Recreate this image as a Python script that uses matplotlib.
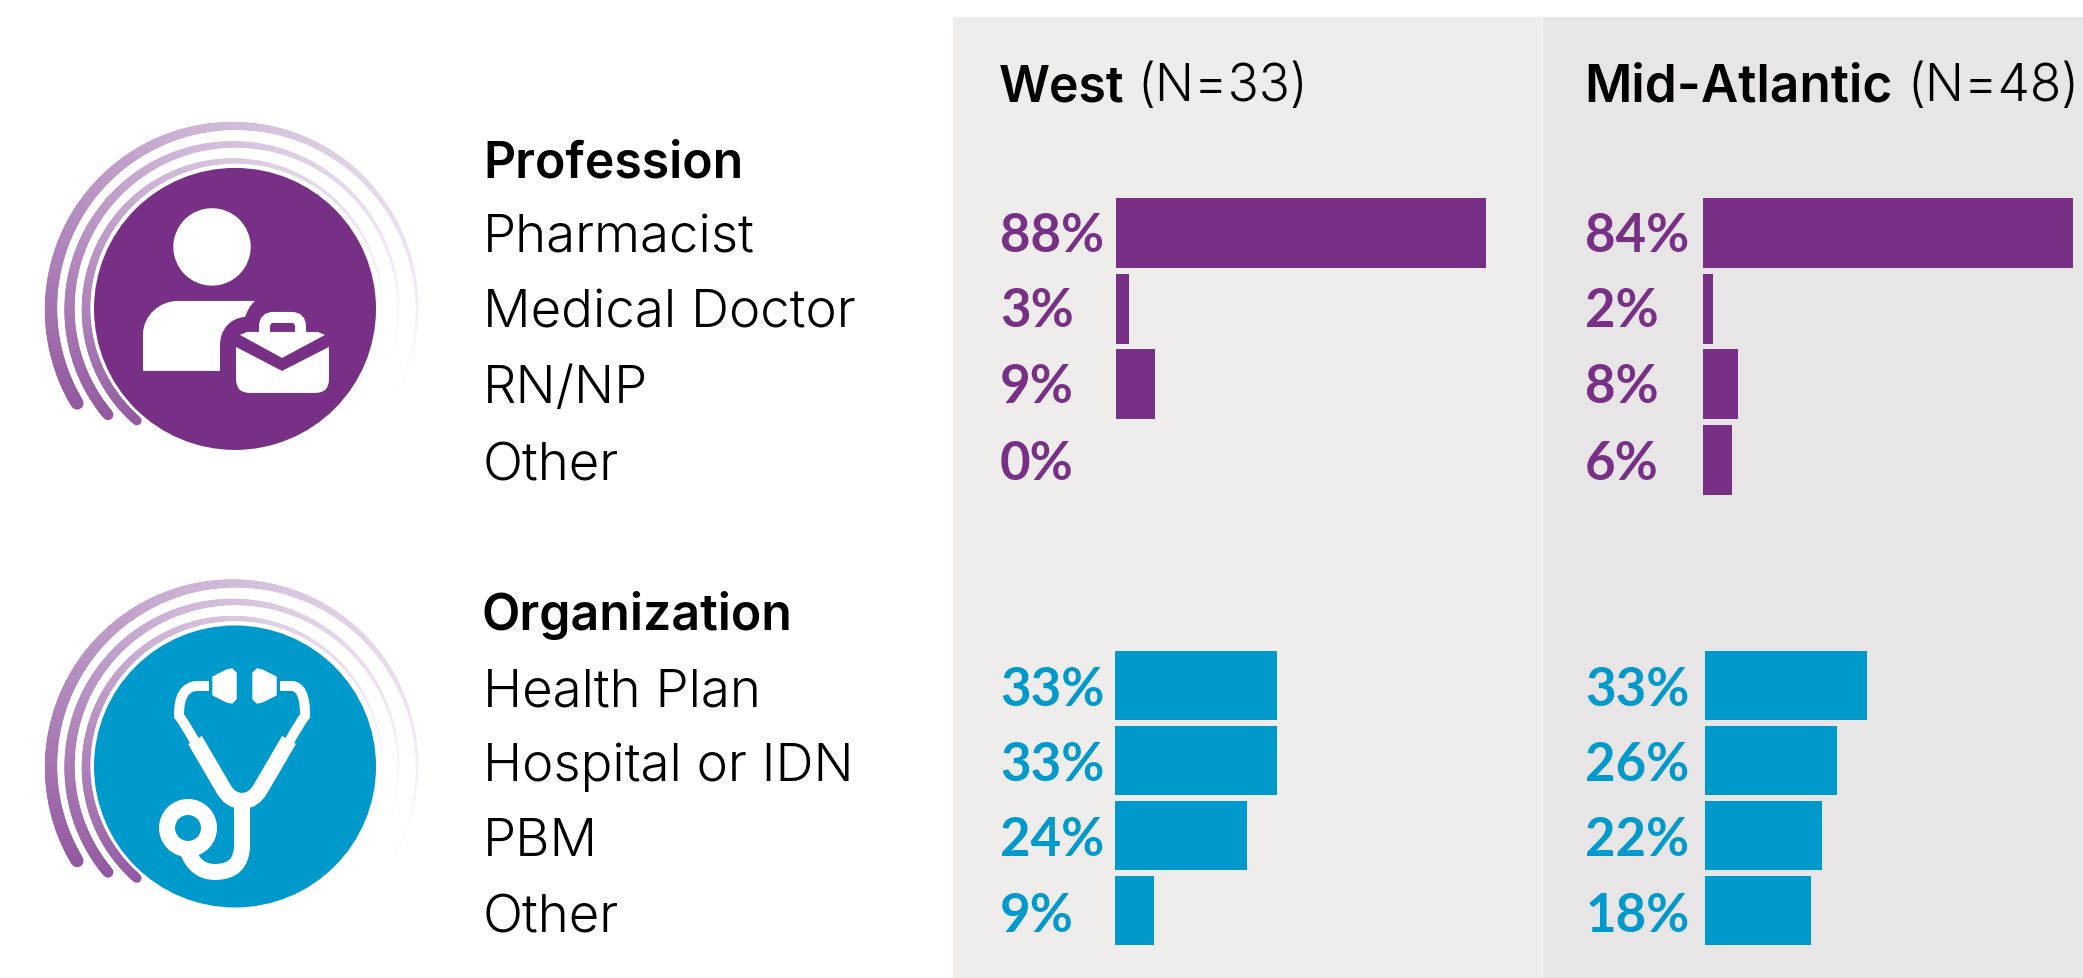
import matplotlib
matplotlib.use('Agg')
import matplotlib.pyplot as plt
import numpy as np
from matplotlib.collections import LineCollection
from matplotlib.patches import Circle, PathPatch, Rectangle, Polygon, FancyBboxPatch
from matplotlib.path import Path

W, H = 2083, 978

profession_labels = ['Pharmacist', 'Medical Doctor', 'RN/NP', 'Other']
organization_labels = ['Health Plan', 'Hospital or IDN', 'PBM', 'Other']

west_profession = [88, 3, 9, 0]
west_organization = [33, 33, 24, 9]
midatl_profession = [84, 2, 8, 6]
midatl_organization = [33, 26, 22, 18]

# drawn bar lengths, they don't follow the printed % exactly
west_profession_bars = [84.1, 3.0, 8.9, 0]
west_organization_bars = [36.8, 36.8, 30.0, 8.9]
midatl_profession_bars = [84.1, 2.3, 8.0, 6.6]
midatl_organization_bars = [36.8, 30.0, 26.6, 24.0]

PURPLE = '#773086'
BLUE = '#0099CC'

# the extra 0.1 keeps float rounding from dropping a pixel row
fig = plt.figure(figsize=((W + 0.1) / 100, (H + 0.1) / 100), dpi=100, facecolor='white')
bg = fig.add_axes([0, 0, 1, 1])
bg.set_xlim(0, W)
bg.set_ylim(H, 0)
bg.axis('off')


def px(v):
    return v * 0.72


def bars(x0, y_top, pitch, height, lengths, color):
    # one small axes per block, 4.4 px per unit
    ax = fig.add_axes([x0 / W, 1 - (y_top + 4 * pitch) / H, 400 / W, 4 * pitch / H])
    ax.barh(range(4), lengths, height=height / pitch, color=color, linewidth=0)
    ax.set_xlim(0, 400 / 4.4)
    ax.set_ylim(3.5, -0.5)
    ax.axis('off')


def arcs(cx, cy):
    # r, start angle, end angle, start width
    for r, a0, a1, w0 in [(183, 211, -30, 12.5), (164.5, 220, -20, 10.5), (148, 229, -10, 9)]:
        t = np.linspace(0, 1, 260)
        a = np.radians(a0 + (a1 - a0) * t)
        x = cx + r * np.cos(a)
        y = cy - r * np.sin(a)
        pts = np.column_stack([x, y]).reshape(-1, 1, 2)
        segs = np.concatenate([pts[:-1], pts[1:]], axis=1)
        tt = t[:-1]
        widths = px(w0 * (1 - tt ** 1.5) ** 1.1 + 0.4)
        c0 = np.array(matplotlib.colors.to_rgb('#9358A0'))
        c1 = np.array(matplotlib.colors.to_rgb('#CDB4D6'))
        c2 = np.array([1.0, 1.0, 1.0])
        cols = []
        for v in tt:
            if v < 0.45:
                cols.append(c0 + (c1 - c0) * v / 0.45)
            else:
                cols.append(c1 + (c2 - c1) * (v - 0.45) / 0.55)
        lc = LineCollection(segs, linewidths=widths, colors=cols, capstyle='round', zorder=2)
        bg.add_collection(lc)


def person_icon():
    bg.add_patch(Circle((212, 247), 38.7, fc='white', ec='none', zorder=4))
    body = Path([(143, 371), (143, 335), (143, 315), (160, 301), (178, 301), (255, 301), (249, 306), (245, 317),
                 (230, 318), (220, 330), (220, 345), (220, 371), (143, 371)],
                [Path.MOVETO, Path.LINETO, Path.CURVE4, Path.CURVE4, Path.CURVE4, Path.LINETO, Path.CURVE3, Path.CURVE3,
                 Path.CURVE4, Path.CURVE4, Path.CURVE4, Path.LINETO, Path.CLOSEPOLY])
    bg.add_patch(PathPatch(body, fc='white', ec='none', zorder=4))
    # briefcase
    bg.add_patch(FancyBboxPatch((264.5, 317.5), 36, 30, boxstyle='round,pad=0,rounding_size=9', fc='none', ec='white',
                                lw=px(11), zorder=4))
    bg.add_patch(Rectangle((236, 332), 94, 30, fc=PURPLE, ec='none', zorder=4.5))
    bg.add_patch(Polygon([(240, 335), (247, 332), (318, 332), (325, 335), (282, 358)], fc='white', ec='none', zorder=5))
    case = Path([(236, 347), (282, 371), (329, 347), (329, 379), (329, 393), (315, 393), (250, 393), (236, 393), (236, 379),
                 (236, 347)],
                [Path.MOVETO, Path.LINETO, Path.LINETO, Path.LINETO, Path.CURVE3, Path.CURVE3, Path.LINETO, Path.CURVE3,
                 Path.CURVE3, Path.CLOSEPOLY])
    bg.add_patch(PathPatch(case, fc='white', ec='none', zorder=5))


def stethoscope_icon():
    for xs in [[(213, 677), (227, 670), (232, 669), (236, 673), (236, 699), (232, 703), (227, 702), (213, 695)],
               [(276, 677), (262, 670), (257, 669), (253, 673), (253, 699), (257, 703), (262, 702), (276, 695)]]:
        bg.add_patch(Polygon(xs, fc='white', ec='white', lw=1, joinstyle='round', zorder=4))
    left = Path([(209, 686), (198, 686), (179, 686), (179, 708), (179, 716), (184, 722), (195, 742)],
                [Path.MOVETO, Path.LINETO, Path.CURVE4, Path.CURVE4, Path.CURVE4, Path.CURVE3, Path.CURVE3])
    right = Path([(280, 686), (291, 686), (305, 686), (305, 708), (305, 716), (300, 722), (289, 742)],
                 [Path.MOVETO, Path.LINETO, Path.CURVE4, Path.CURVE4, Path.CURVE4, Path.CURVE3, Path.CURVE3])
    for p in (left, right):
        bg.add_patch(PathPatch(p, fc='none', ec='white', lw=px(10), capstyle='butt', zorder=4))
    yoke = Path([(195, 740), (223, 788), (230, 801), (242, 801), (254, 801), (261, 788), (289, 740)],
                [Path.MOVETO, Path.LINETO, Path.CURVE3, Path.CURVE3, Path.CURVE3, Path.CURVE3, Path.LINETO])
    bg.add_patch(PathPatch(yoke, fc='none', ec='white', lw=px(16), capstyle='butt', zorder=4))
    stem = Path([(242, 800), (242, 845), (242, 872), (215, 872), (196, 872), (188, 852)],
                [Path.MOVETO, Path.LINETO, Path.CURVE3, Path.CURVE3, Path.CURVE3, Path.CURVE3])
    bg.add_patch(PathPatch(stem, fc='none', ec='white', lw=px(16), capstyle='butt', zorder=4))
    bg.add_patch(Circle((188, 828), 21, fc='none', ec='white', lw=px(16), zorder=4))


def label(x, y, s, weight=300, color='black', size=38, family='Inter'):
    bg.text(x, y, s, fontsize=size, fontweight=weight, color=color, family=family, ha='left', va='baseline')


# panels
bg.add_patch(Rectangle((953, 17), 589, H - 17, fc='#EEEDEC', ec='none', zorder=0))
bg.add_patch(Rectangle((1543, 17), W - 1543, H - 17, fc='#E7E5E6', ec='none', zorder=0))

# icons
for cy, col in [(309, PURPLE), (766.5, BLUE)]:
    arcs(234, cy)
    bg.add_patch(Circle((235, cy), 141, fc=col, ec='none', zorder=3))
person_icon()
stethoscope_icon()

# headers
label(999, 101, 'West', weight=600, size=36)
label(1137, 101, '(N=33)', size=37)
label(1584, 101, 'Mid-Atlantic', weight=600, size=37)
label(1907, 101, '(N=48)', size=37)

top_rows = [252, 327, 403, 480]
bottom_rows = [706, 781, 856, 932]

# row labels
label(483, 177, 'Profession', weight=600, size=36)
for name, y in zip(profession_labels, top_rows):
    label(483, y, name)
label(481, 630, 'Organization', weight=600, size=36)
for name, y in zip(organization_labels, bottom_rows):
    label(483, y, name)

# percent labels
for x, vals, col, ys in [(1000, west_profession, PURPLE, top_rows),
                         (1585, midatl_profession, PURPLE, top_rows),
                         (1000, west_organization, BLUE, bottom_rows),
                         (1585, midatl_organization, BLUE, bottom_rows)]:
    for v, y in zip(vals, ys):
        label(x, y, '%d%%' % v, weight=700, color=col, size=38, family='Lato')

bars(1116, 195.5, 75.5, 70, west_profession_bars, PURPLE)
bars(1703, 195.5, 75.5, 70, midatl_profession_bars, PURPLE)
bars(1115, 648, 75, 69, west_organization_bars, BLUE)
bars(1705, 648, 75, 69, midatl_organization_bars, BLUE)

fig.savefig('out.png', dpi=100, facecolor='white')
plt.close(fig)
